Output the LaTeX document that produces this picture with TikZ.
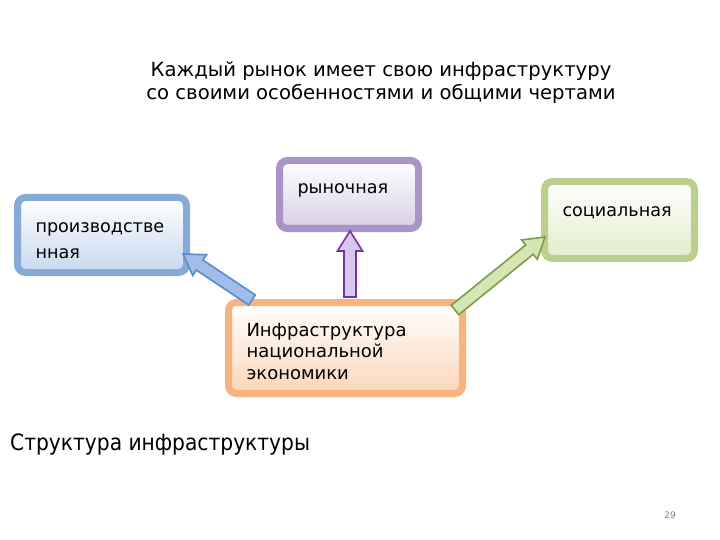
\documentclass[tikz,border=0pt]{standalone}
\usepackage{fontspec}
\setmainfont{DejaVu Sans}
\newfontfamily\tfont{DejaVu Sans Condensed}
\usetikzlibrary{calc,shadows}
\definecolor{bBord}{HTML}{86A9D8}
\definecolor{bFill}{HTML}{C8D8EF}
\definecolor{pBord}{HTML}{A993C8}
\definecolor{pFill}{HTML}{D8CFE8}
\definecolor{gBord}{HTML}{BAD08C}
\definecolor{gFill}{HTML}{E2ECC8}
\definecolor{oBord}{HTML}{F8B37F}
\definecolor{oFill}{HTML}{FBD6B8}
\definecolor{bArF}{HTML}{9EBDE8}
\definecolor{bArD}{HTML}{5B8CCB}
\definecolor{pArF}{HTML}{D6C8EA}
\definecolor{pArD}{HTML}{7B2FA3}
\definecolor{gArF}{HTML}{D5E5B3}
\definecolor{gArD}{HTML}{7C9E4A}
\newcommand\blockarrow[4]{%
  \path (#1) coordinate (ba-s) (#2) coordinate (ba-e);
  \coordinate (ba-h) at ($(ba-e)!20pt!(ba-s)$);
  \draw[#4, fill=#3, line width=1.6pt, line join=miter]
    ($(ba-s)!6pt!90:(ba-e)$) -- ($(ba-h)!6pt!90:(ba-e)$) --
    ($(ba-h)!12.5pt!90:(ba-e)$) -- (ba-e) --
    ($(ba-h)!12.5pt!-90:(ba-e)$) -- ($(ba-h)!6pt!-90:(ba-e)$) --
    ($(ba-s)!6pt!-90:(ba-e)$) -- cycle;}
\tikzset{
  box/.style={rounded corners=8pt, line width=7pt, inner xsep=18pt,
    align=left, font=\fontsize{17.6}{26}\selectfont,
    drop shadow={shadow xshift=2pt, shadow yshift=-2.5pt, fill=gray!55, opacity=0.8}},
  bluebox/.style={box, draw=bBord, top color=white, bottom color=bFill},
  purplebox/.style={box, draw=pBord, top color=white, bottom color=pFill},
  greenbox/.style={box, draw=gBord, top color=white, bottom color=gFill},
  orangebox/.style={box, draw=oBord, top color=white, bottom color=oFill},
  txt/.style={inner sep=0pt}
}
\begin{document}
\begin{tikzpicture}[x=1pt,y=-1pt]
\useasboundingbox[fill=white] (0,0) rectangle (720,540);
\node[txt, align=center, font=\fontsize{19.6}{23}\selectfont] (title) at (381,82.5)
  {Каждый рынок имеет свою инфраструктуру\\со своими особенностями и общими чертами};
\node[bluebox, minimum width=169pt, minimum height=75pt, text width=133pt, text height=21.5pt] (prod) at (102,235)
  {производстве\\нная};
\node[purplebox, minimum width=139pt, minimum height=68pt, text width=103pt, text depth=11pt] (ryn) at (349,194.5)
  {рыночная};
\node[greenbox, minimum width=150pt, minimum height=77pt, text width=114pt, text depth=16pt] (soc) at (619.5,220)
  {социальная};
\node[orangebox, minimum width=234pt, minimum height=91pt, text width=198pt,
  font=\fontsize{18}{21.5}\selectfont, text height=20pt] (inf) at (345.5,348)
  {Инфраструктура\\национальной\\экономики};
\blockarrow{$(inf.north west)+(27,1)$}{$(prod.south east)+(-7,-22)$}{bArF}{bArD}
\blockarrow{$(inf.north)+(4.5,-2)$}{$(ryn.south)+(1,-1)$}{pArF}{pArD}
\blockarrow{$(inf.north east)+(-11,11)$}{$(soc.south west)+(4,-25)$}{gArF}{gArD}
\node[txt, anchor=west, font=\tfont\fontsize{22.5}{26}\selectfont] (cap) at (10,444)
  {Структура инфраструктуры};
\node[txt, text=gray, font=\fontsize{9}{11}\selectfont] (pg) at (670,515) {29};
\end{tikzpicture}
\end{document}
